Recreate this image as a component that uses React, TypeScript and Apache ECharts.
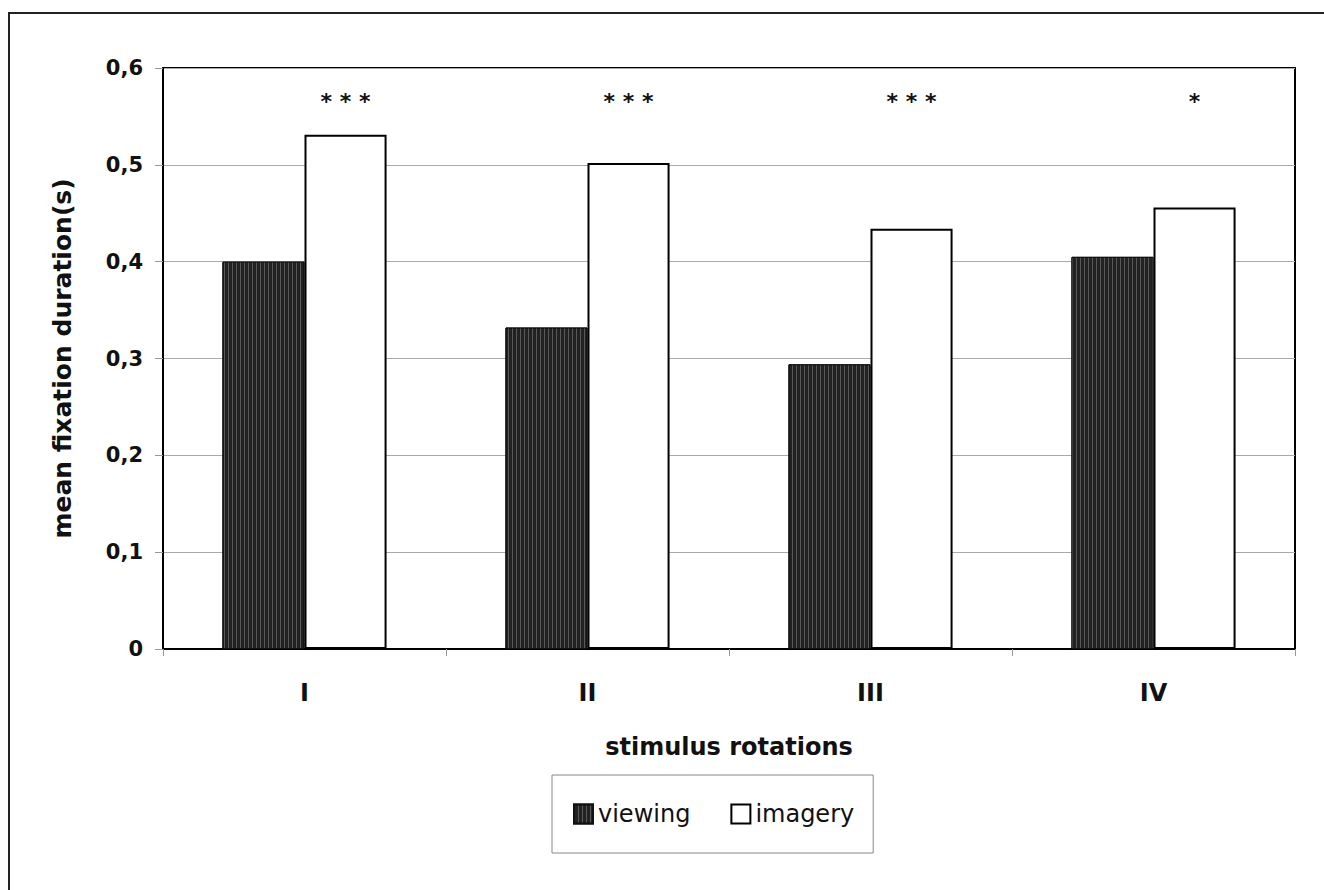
import React, { useEffect, useRef } from "react";
import * as echarts from "echarts";

const categories = ["I", "II", "III", "IV"];
const viewing = [0.4, 0.332, 0.294, 0.405];
const imagery = [0.531, 0.502, 0.434, 0.456];
const significance = ["***", "***", "***", "*"];
const starLevel = 0.565;
const yTicks = [0, 0.1, 0.2, 0.3, 0.4, 0.5, 0.6];

const FONT = "'DejaVu Sans', 'Liberation Sans', Arial, sans-serif";

export default function App() {
  const ref = useRef<HTMLDivElement>(null);
  useEffect(() => {
    document.body.style.margin = "0";
    const chart = echarts.init(ref.current!, undefined, { renderer: "svg" });
    const option: any = {
      animation: false,
      backgroundColor: "#fff",
      graphic: [
        {
          type: "rect",
          shape: { x: 9, y: 13, width: 1340, height: 900 },
          style: { fill: "none", stroke: "#222", lineWidth: 2 },
          silent: true,
        },
      ],
      grid: {
        left: 163,
        top: 68,
        right: 29,
        bottom: 241,
        show: true,
        borderColor: "#000",
        borderWidth: 2,
        backgroundColor: "transparent",
      },
      legend: {
        left: 552,
        top: 775,
        orient: "horizontal",
        padding: [27, 19, 27, 21],
        itemGap: 40,
        itemWidth: 19,
        itemHeight: 19,
        borderColor: "#888",
        borderWidth: 1,
        icon: "rect",
        data: ["viewing", "imagery"],
        textStyle: { fontFamily: FONT, fontSize: 24, color: "#111" },
      },
      xAxis: {
        type: "category",
        data: categories,
        name: "stimulus rotations",
        nameLocation: "middle",
        nameGap: 86,
        nameTextStyle: { fontFamily: FONT, fontSize: 24, fontWeight: "bold", color: "#111" },
        axisLine: { lineStyle: { color: "#000", width: 2 } },
        axisTick: { show: true, length: 7, lineStyle: { color: "#999" } },
        axisLabel: { fontFamily: FONT, fontSize: 24, fontWeight: "bold", color: "#111", margin: 32 },
      },
      yAxis: {
        type: "value",
        min: 0,
        max: 0.6,
        interval: 0.1,
        name: "mean fixation duration(s)",
        nameLocation: "middle",
        nameGap: 88,
        nameTextStyle: { fontFamily: FONT, fontSize: 25, fontWeight: "bold", color: "#111" },
        axisLine: { show: true, lineStyle: { color: "#000", width: 2 } },
        axisTick: { show: true, length: 8, lineStyle: { color: "#999" } },
        splitLine: { lineStyle: { color: "#aaa", width: 1 } },
        axisLabel: {
          fontFamily: FONT,
          fontSize: 21,
          fontWeight: "bold",
          color: "#111",
          margin: 20,
          formatter: (v: number) => {
            const t = yTicks.find((x) => Math.abs(x - v) < 1e-9);
            return t === 0 ? "0" : (t ?? v).toFixed(1).replace(".", ",");
          },
        },
      },
      series: [
        {
          name: "viewing",
          type: "bar",
          data: viewing,
          barGap: "0%",
          barCategoryGap: "42%",
          itemStyle: {
            color: "#222",
            borderColor: "#111",
            borderWidth: 1,
            decal: {
              symbol: "rect",
              symbolSize: 1,
              dashArrayX: [1, 3],
              dashArrayY: [4, 0],
              color: "rgba(190,190,190,0.35)",
            },
          },
        },
        {
          name: "imagery",
          type: "bar",
          data: imagery,
          barGap: "0%",
          barCategoryGap: "42%",
          itemStyle: { color: "#fff", borderColor: "#000", borderWidth: 2 },
        },
        {
          name: "sig",
          type: "custom",
          data: categories.map((c, i) => [i, starLevel]),
          renderItem: (params: any, api: any) => {
            const p = api.coord([api.value(0), api.value(1)]);
            const band = api.size([1, 0])[0];
            const s = significance[params.dataIndex];
            return {
              type: "text",
              x: p[0] + band * 0.145,
              y: p[1],
              style: {
                text: s.split("").join(" "),
                fontFamily: FONT,
                fontSize: 22,
                fontWeight: "bold",
                fill: "#111",
                align: "center",
                verticalAlign: "middle",
              },
            };
          },
          silent: true,
        },
      ],
    };
    chart.setOption(option);
    return () => chart.dispose();
  }, []);
  return <div ref={ref} style={{ width: 1324, height: 890 }} />;
}
